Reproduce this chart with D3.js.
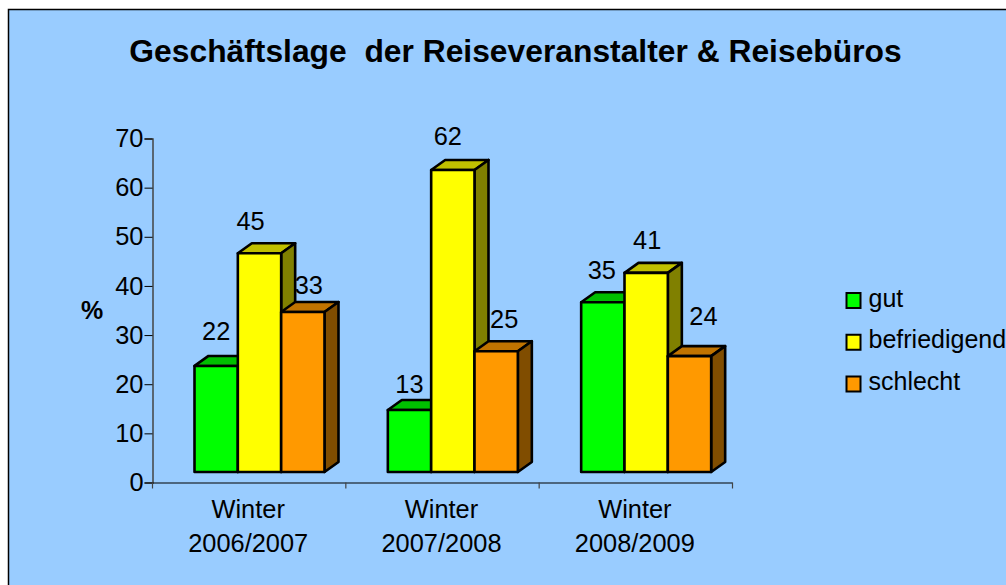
<!DOCTYPE html>
<html>
<head>
<meta charset="utf-8">
<script src="https://cdn.jsdelivr.net/npm/d3@7"></script>
<style>
html, body { margin: 0; padding: 0; background: #fff; }
svg { display: block; font-family: "Liberation Sans", Arial, sans-serif; fill: #000; }
</style>
</head>
<body>
<svg id="chart" width="1006" height="585"></svg>
<script>
const title = 'Geschäftslage  der Reiseveranstalter & Reisebüros';
const periods = [['Winter', '2006/2007'], ['Winter', '2007/2008'], ['Winter', '2008/2009']];
const seriesNames = ['gut', 'befriedigend', 'schlecht'];
const gut = [22, 13, 35];
const befriedigend = [45, 62, 41];
const schlecht = [33, 25, 24];
const yTicks = [0, 10, 20, 30, 40, 50, 60, 70];

// colours per series: front, top, side
const colors = {
    gut: ['#00ff00', '#00c000', '#008000'],
    befriedigend: ['#ffff00', '#c0c000', '#808000'],
    schlecht: ['#ff9900', '#c07300', '#804d00']
};

// the data labels were placed by hand in the original, so they need nudging
const labelNudge = {
    gut: [[0, -26], [0, -17], [-1, -23]],
    befriedigend: [[-9, -23], [-5, -25], [1, -24]],
    schlecht: [[6, -18], [8, -23], [14, -31]]
};

const values = { gut, befriedigend, schlecht };
const svg = d3.select('#chart');

const depthX = 14;
const depthY = 10;

const x0 = d3.scaleBand().domain(d3.range(periods.length)).range([152, 732]);
const x1 = d3.scaleBand().domain(seriesNames).range([42.5, 172.5]);
const y = d3.scaleLinear().domain([0, 70]).range([482, 138]);
// the front plane of the 3D bars sits in front of the axis, slightly smaller
const yBar = d3.scaleLinear().domain([0, 70]).range([473.7, 130.8]);

svg.append('rect')
    .attr('x', 8.5).attr('y', 9.5)
    .attr('width', 1100).attr('height', 700)
    .attr('fill', '#99ccff').attr('stroke', '#000').attr('stroke-width', 1.5);

svg.append('text')
    .attr('x', 515.5).attr('y', 62)
    .attr('text-anchor', 'middle')
    .attr('xml:space', 'preserve')
    .style('white-space', 'pre')
    .style('font-size', '31.8px').style('font-weight', 'bold')
    .text(title);

const yAxis = svg.append('g')
    .attr('transform', 'translate(152.5,0.5)')
    .call(d3.axisLeft(y).tickValues(yTicks).tickSize(8).tickPadding(1));
yAxis.select('.domain').attr('stroke', '#444').attr('stroke-width', 1.5);
yAxis.selectAll('text').style('font-size', '25.4px').attr('fill', '#000');

const xAxis = svg.append('g')
    .attr('transform', 'translate(0,482.5)')
    .call(d3.axisBottom(x0).tickValues([]).tickSizeOuter(0));
xAxis.select('.domain').attr('stroke', '#000').attr('stroke-width', 1.2);

xAxis.selectAll('line.sep')
    .data(d3.range(periods.length + 1))
    .join('line')
    .attr('class', 'sep')
    .attr('x1', i => i < periods.length ? x0(i) + 0.5 : x0.range()[1] + 0.5)
    .attr('x2', i => i < periods.length ? x0(i) + 0.5 : x0.range()[1] + 0.5)
    .attr('y1', 0).attr('y2', 6)
    .attr('stroke', '#444').attr('stroke-width', 1.2);

const catLabels = svg.append('g').selectAll('text')
    .data(periods)
    .join('text')
    .attr('text-anchor', 'middle')
    .attr('transform', (d, i) => `translate(${x0(i) + x0.bandwidth() / 2 - 0.5},0)`)
    .style('font-size', '25.4px');
catLabels.append('tspan').attr('x', 0).attr('y', 518).text(d => d[0]);
catLabels.append('tspan').attr('x', 0).attr('y', 552).text(d => d[1]);

svg.append('text')
    .attr('x', 92).attr('y', 319)
    .attr('text-anchor', 'middle')
    .style('font-size', '25px').style('font-weight', 'bold')
    .text('%');

// bars, left to right so each front covers the side of its neighbour
const base = 472;
periods.forEach((p, i) => {
    const g = svg.append('g').attr('transform', `translate(${x0(i)},0)`);
    seriesNames.forEach(name => {
        const v = values[name][i];
        const bx = x1(name);
        const w = x1.bandwidth();
        const top = yBar(v);
        const c = colors[name];
        const bar = g.append('g')
            .attr('stroke', '#000').attr('stroke-width', 2.6).attr('stroke-linejoin', 'round');
        bar.append('path')
            .attr('fill', c[1])
            .attr('d', `M${bx},${top}l${depthX},${-depthY}h${w}l${-depthX},${depthY}z`);
        bar.append('path')
            .attr('fill', c[2])
            .attr('d', `M${bx + w},${top}l${depthX},${-depthY}V${base - depthY}l${-depthX},${depthY}z`);
        bar.append('rect')
            .attr('fill', c[0])
            .attr('x', bx).attr('y', top)
            .attr('width', w).attr('height', base - top);
    });
    seriesNames.forEach(name => {
        const v = values[name][i];
        const n = labelNudge[name][i];
        g.append('text')
            .attr('x', x1(name) + x1.bandwidth() / 2 + n[0])
            .attr('y', yBar(v) + n[1])
            .attr('text-anchor', 'middle')
            .style('font-size', '25.4px')
            .text(v);
    });
});

const legendY = d3.scalePoint().domain(seriesNames).range([300.5, 384]);
const legend = svg.append('g').selectAll('g')
    .data(seriesNames)
    .join('g')
    .attr('transform', d => `translate(846,${legendY(d)})`);
legend.append('rect')
    .attr('x', 0.5).attr('y', -7.5)
    .attr('width', 14).attr('height', 15)
    .attr('fill', d => colors[d][0])
    .attr('stroke', '#000').attr('stroke-width', 2);
legend.append('text')
    .attr('x', 22.5).attr('y', 6)
    .style('font-size', '25px')
    .text(d => d);
</script>
</body>
</html>
